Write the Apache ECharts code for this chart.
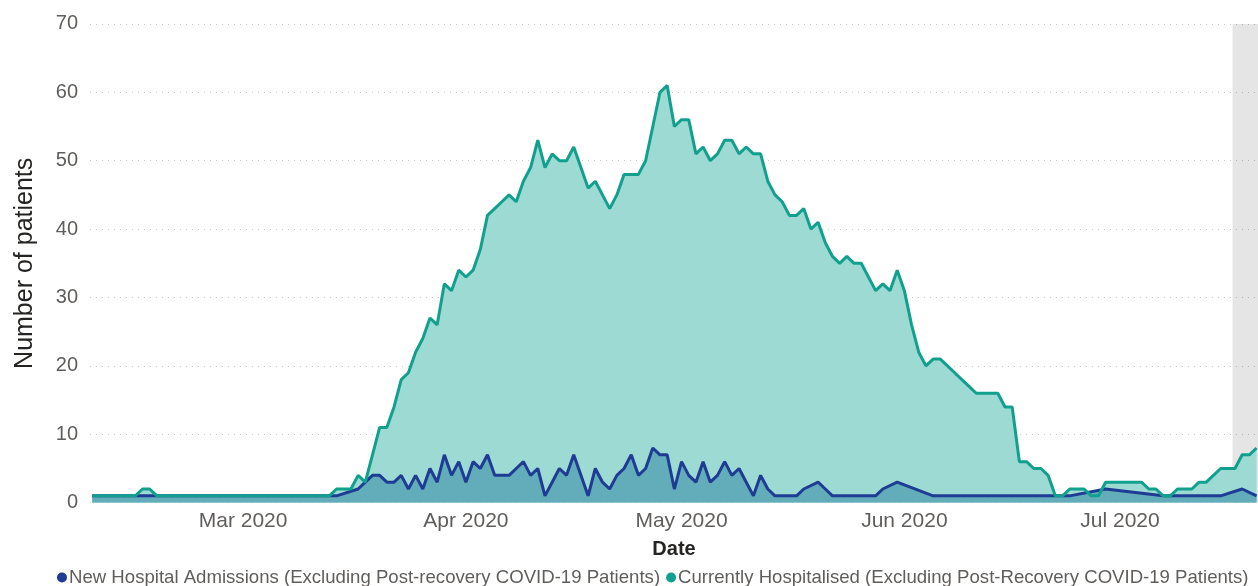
<!DOCTYPE html>
<html>
<head>
<meta charset="utf-8">
<title>Hospitalised patients by day</title>
<script src="https://cdn.jsdelivr.net/npm/echarts@6/dist/echarts.min.js"></script>
<style>
html, body { margin: 0; padding: 0; background: #fff; }
#chart { width: 1258px; height: 586px; }
</style>
</head>
<body>
<div id="chart"></div>
<script>
// one value per day, first day is 9 Feb 2020
var startDate = new Date(2020, 1, 9);

var hospitalised = [
  1, 1, 1, 1, 1, 1, 1, 2, 2,
  1, 1, 1, 1, 1, 1, 1, 1, 1, 1, 1, 1, 1, 1, 1, 1, 1, 1, 1, 1, 1, 1, 1, 1, 1,
  2, 2, 2,
  4, 3, 7, 11, 11, 14, 18, 19, 22, 24,
  27, 26, 32, 31, 34, 33, 34, 37, 42, 43,
  44, 45, 44, 47, 49, 53, 49, 51, 50, 50,
  52, 49, 46, 47, 45, 43, 45, 48, 48, 48,
  50, 55, 60, 61, 55, 56, 56, 51, 52, 50,
  51, 53, 53, 51, 52, 51, 51, 47, 45, 44,
  42, 42, 43, 40, 41, 38, 36, 35, 36, 35,
  35, 33, 31, 32, 31, 34, 31, 26, 22, 20,
  21, 21, 20, 19, 18, 17, 16, 16, 16, 16,
  14, 14, 6, 6, 5, 5, 4, 1, 1, 2,
  2, 2, 1, 1, 3, 3, 3, 3, 3, 3,
  2, 2, 1, 1, 2, 2, 2, 3, 3, 4,
  5, 5, 5, 7, 7, 8
];

// null = no record that day (line is joined across)
var admissions = [
  1, 1, 1, 1, 1, 1, 1,
  1, 1, 1, 1, 1, 1, 1,
  1, 1, 1, 1, 1, 1, 1,
  1, 1, 1, 1, 1, 1, 1,
  1, 1, 1, 1, 1, 1, 1,
  null, null,
  2, 3, 4, 4, 3, 3, 4, 2, 4, 2,
  5, 3, 7, 4, 6, 3, 6, 5, 7, 4,
  4, 4, 5, 6, 4, 5, 1, 3, 5, 4,
  7, 4, 1, 5, 3, 2, 4, 5, 7, 4,
  5, 8, 7, 7, 2, 6, 4, 3, 6, 3,
  4, 6, 4, 5, 3, 1, 4, 2, 1, 1,
  1, 1, 2, null, 3, 2, 1, 1, 1, 1,
  1, 1, 1, 2, null, 3, null, null, null, null,
  1, 1, 1, 1, 1, 1, 1, 1, 1, 1,
  1, 1, 1, 1, 1, 1, 1, 1, 1, 1,
  null, null, null, null, 2, null, null, null, null, null,
  null, null, 1, 1, 1, 1, 1, 1, 1, 1,
  1, null, null, 2, null, 1
];

var tickMonths = [2, 3, 4, 5, 6];
var tickLabels = ['Mar 2020', 'Apr 2020', 'May 2020', 'Jun 2020', 'Jul 2020'];
var yTicks = [0, 10, 20, 30, 40, 50, 60, 70];

var admName = 'New Hospital Admissions (Excluding Post-recovery COVID-19 Patients)';
var hospName = 'Currently Hospitalised (Excluding Post-Recovery COVID-19 Patients)';

var DAY = 86400000;
var t0 = startDate.getTime();
var axisMin = t0 - 0.3 * DAY;
var axisMax = t0 + 162.2 * DAY;
var bandStart = t0 + 158.65 * DAY;

function toPairs(arr) {
  return arr.map(function (v, i) {
    return [t0 + i * DAY, v];
  });
}

var font = 'Liberation Sans, Arial, sans-serif';

var myChart = echarts.init(document.getElementById('chart'));
myChart.setOption({
  animation: false,
  backgroundColor: '#fff',
  grid: { left: 90, right: 0, top: 23.9, bottom: 83.3 },
  legend: {
    data: [admName, hospName],
    left: 52,
    top: 563,
    icon: 'circle',
    itemWidth: 10,
    itemHeight: 10,
    itemGap: 6,
    textStyle: { fontSize: 18.6, color: '#605E5C', fontFamily: font, padding: [0, 0, 0, -3] }
  },
  xAxis: {
    type: 'time',
    min: axisMin,
    max: axisMax,
    splitNumber: 5,
    name: 'Date',
    nameLocation: 'middle',
    nameGap: 37,
    nameTextStyle: { fontSize: 20, color: '#252423', fontFamily: font, fontWeight: 'bold' },
    axisLine: { show: false },
    axisTick: { show: false },
    splitLine: { show: false },
    axisLabel: {
      fontSize: 21,
      color: '#605E5C',
      fontFamily: font,
      margin: 8,
      showMinLabel: false,
      showMaxLabel: false,
      formatter: function (value) {
        var d = new Date(value);
        var k = tickMonths.indexOf(d.getMonth());
        return k >= 0 && d.getDate() === 1 ? tickLabels[k] : '';
      }
    }
  },
  yAxis: {
    type: 'value',
    min: yTicks[0],
    max: yTicks[yTicks.length - 1],
    interval: 10,
    name: 'Number of patients',
    nameLocation: 'middle',
    nameRotate: 90,
    nameGap: 52,
    nameTextStyle: { fontSize: 25, color: '#252423', fontFamily: font },
    axisLine: { show: false },
    axisTick: { show: false },
    axisLabel: { fontSize: 20, color: '#605E5C', fontFamily: font, margin: 12 },
    splitLine: { lineStyle: { color: '#C8C8C8', type: [1, 5], width: 1 } }
  },
  series: [
    {
      name: 'hospArea',
      type: 'line',
      data: toPairs(hospitalised),
      symbol: 'none',
      silent: true,
      lineStyle: { width: 0 },
      areaStyle: { color: '#9CDAD3', opacity: 1 },
      z: 1
    },
    {
      name: 'admArea',
      type: 'line',
      data: toPairs(admissions),
      connectNulls: true,
      symbol: 'none',
      silent: true,
      lineStyle: { width: 0 },
      areaStyle: { color: '#62ADB9', opacity: 1 },
      z: 2
    },
    {
      name: admName,
      type: 'line',
      data: toPairs(admissions),
      connectNulls: true,
      symbol: 'none',
      itemStyle: { color: '#1F3C95' },
      lineStyle: { color: '#1F3C95', width: 3 },
      z: 3
    },
    {
      name: hospName,
      type: 'line',
      data: toPairs(hospitalised),
      symbol: 'none',
      itemStyle: { color: '#12A08E' },
      lineStyle: { color: '#12A08E', width: 3 },
      z: 4
    },
    {
      name: 'band',
      type: 'line',
      data: [],
      silent: true,
      zlevel: 1,
      markArea: {
        silent: true,
        itemStyle: { color: 'rgba(0,0,0,0.1)' },
        data: [[{ xAxis: bandStart }, { xAxis: axisMax }]]
      }
    }
  ]
});
window.addEventListener('resize', function () {
  myChart.resize();
});
</script>
</body>
</html>
